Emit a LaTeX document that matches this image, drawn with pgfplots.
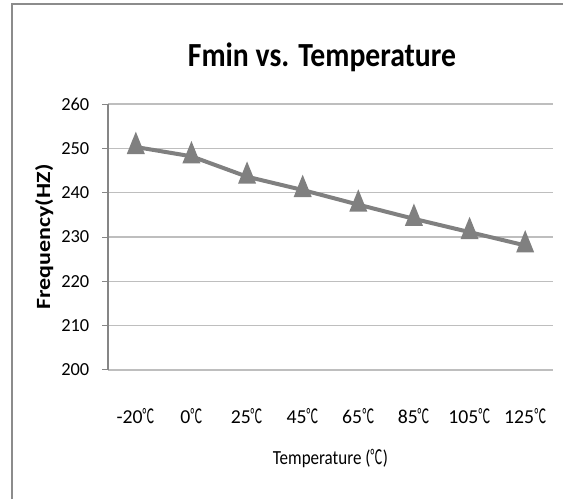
\documentclass[border=0pt]{standalone}
\usepackage{pgfplots}
\pgfplotsset{compat=1.18}
\usepackage{fontspec}
\setmainfont{Carlito}
\newfontfamily\titlefont{Carlito}[FakeStretch=0.88]
\newfontfamily\labfont{Carlito}[FakeStretch=0.85]
\newfontfamily\cjkf{Noto Sans CJK SC}[FakeStretch=0.62]
\newcommand{\dc}{{\cjkf ℃}}
\definecolor{linegray}{RGB}{128,128,128}
\definecolor{gridgray}{RGB}{190,190,190}
\definecolor{axisgray}{RGB}{134,134,134}
\definecolor{framegray}{RGB}{140,140,140}

\begin{document}
\begin{tikzpicture}
% 1px = 0.75pt
\useasboundingbox (0,0) rectangle (422.25pt,374.25pt);
\draw[framegray, line width=1.1pt] (9pt,0) -- (9pt,371.25pt) -- (422.25pt,371.25pt);
\node[anchor=base, font=\fontsize{25.3}{28}\titlefont\bfseries] at (241.5pt,324.2pt) {Fmin vs. Temperature};
\begin{axis}[
  at={(81pt,96.75pt)}, anchor=south west,
  scale only axis, width=333.75pt, height=199.5pt,
  xmin=-0.5, xmax=7.5, ymin=200, ymax=260,
  xtick={0,...,7},
  xticklabels={-20\dc, 0\dc, 25\dc, 45\dc, 65\dc, 85\dc, 105\dc, 125\dc},
  ytick={200,210,...,260},
  axis x line=bottom, axis y line=left,
  x axis line style={-, gridgray, line width=1pt},
  y axis line style={-, axisgray, line width=0.9pt},
  ymajorgrids, grid style={gridgray, line width=0.8pt},
  tick align=outside, major tick length=4.5pt,
  ytick style={axisgray, line width=0.75pt}, xtick style={draw=none},
  /pgf/number format/assume math mode=true,
  yticklabel style={font=\fontsize{13.8}{16}\selectfont, xshift=-6pt},
  xticklabel style={font=\fontsize{14.8}{17}\selectfont, anchor=base, yshift=-36pt},
  xlabel={Temperature (\dc)},
  every axis x label/.style={at={(axis description cs:0.5,0)}, anchor=base, yshift=-70.5pt, font=\fontsize{15}{18}\labfont},
  ylabel={\scalebox{1}[0.84]{\bfseries Frequency(HZ)}},
  every axis y label/.style={at={(axis description cs:-0.130,0.5)}, rotate=90, anchor=base, font=\fontsize{18}{20}\selectfont},
  clip=false,
]
\addplot[linegray, line width=3pt, mark=triangle*, mark size=7.5pt, mark options={xscale=0.7, solid}]
  coordinates {(0,250.3) (1,248.2) (2,243.6) (3,240.6) (4,237.3) (5,234.1) (6,231.1) (7,228.1)};
\end{axis}
\end{tikzpicture}
\end{document}
